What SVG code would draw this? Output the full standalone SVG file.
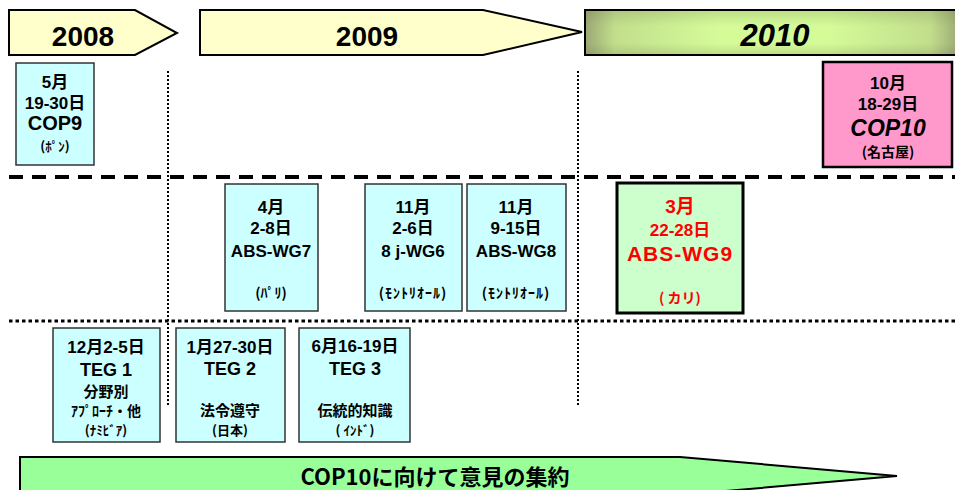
<svg xmlns="http://www.w3.org/2000/svg" width="955" height="490" viewBox="0 0 955 490">
<style>
text{font-family:'Liberation Sans','Noto Sans CJK JP',sans-serif;font-weight:bold;text-anchor:middle;fill:#000}
.jp{font-family:'Noto Sans CJK JP','Liberation Sans',sans-serif}
.yr{font-size:28px}
.box{fill:#ccffff;stroke:#333;stroke-width:1.5}
.md{font-size:17px}
.big{font-size:20px}
.sm{font-size:14px}
.red{fill:#ff0000}
.it{font-style:italic}
</style>
<defs>
<linearGradient id="g2010" x1="0" y1="0" x2="1" y2="0">
<stop offset="0" stop-color="#9aa874"/>
<stop offset="0.08" stop-color="#c2de8c"/>
<stop offset="0.35" stop-color="#d4fb98"/>
<stop offset="0.65" stop-color="#d4fb98"/>
<stop offset="0.92" stop-color="#c2de8c"/>
<stop offset="1" stop-color="#9aa874"/>
</linearGradient>
<linearGradient id="g2010v" x1="0" y1="0" x2="0" y2="1">
<stop offset="0" stop-color="#5a6040" stop-opacity="0.18"/>
<stop offset="0.35" stop-color="#5a6040" stop-opacity="0"/>
<stop offset="0.75" stop-color="#5a6040" stop-opacity="0"/>
<stop offset="1" stop-color="#5a6040" stop-opacity="0.18"/>
</linearGradient>
</defs>

<g id="connectors" fill="none" stroke="#000">
<line x1="168" y1="71" x2="168" y2="407" stroke-width="2" stroke-dasharray="2 2"/>
<line x1="578" y1="71" x2="578" y2="407" stroke-width="2" stroke-dasharray="2 2"/>
<line x1="9" y1="177" x2="955" y2="177" stroke-width="4" stroke-dasharray="14 9"/>
<line x1="9" y1="321" x2="955" y2="321" stroke-width="3" stroke-dasharray="3.5 3"/>
</g>

<g id="y2008">
<polygon points="9,10 135,10 177,33 135,55 9,55" fill="#ffffcc" stroke="#000" stroke-width="2"/>
<text class="yr" x="83" y="46">2008</text>
</g>
<g id="y2009">
<polygon points="200,10 483,10 582,32 483,55 200,55" fill="#ffffcc" stroke="#000" stroke-width="2"/>
<text class="yr" x="367" y="46">2009</text>
</g>
<g id="y2010">
<rect x="585" y="10" width="375" height="45" fill="url(#g2010)" stroke="#000" stroke-width="2"/>
<rect x="586" y="11" width="370" height="43" fill="url(#g2010v)"/>
<text class="it" x="775" y="46" font-size="31">2010</text>
</g>

<g id="cop9">
<rect class="box" x="16" y="63" width="78" height="102"/>
<text class="md" x="55" y="88">5月</text>
<text class="md" x="55" y="109">19-30日</text>
<text class="big" x="55" y="130">COP9</text>
<text class="jp" x="55" y="151" font-size="13">(ﾎﾟﾝ)</text>
</g>

<g id="cop10">
<rect x="823" y="62" width="129" height="105" fill="#ff99cc" stroke="#000" stroke-width="2.5"/>
<text class="md" x="888" y="89">10月</text>
<text class="md" x="888" y="110">18-29日</text>
<text class="it" x="888" y="136" font-size="23">COP10</text>
<text class="jp" x="888" y="157" font-size="14">(名古屋)</text>
</g>

<g id="wg7">
<rect class="box" x="225" y="184" width="93" height="127"/>
<text class="md" x="271" y="213">4月</text>
<text class="md" x="271" y="234">2-8日</text>
<text class="md" x="271" y="257">ABS-WG7</text>
<text class="sm jp" x="271" y="298">(ﾊﾟﾘ)</text>
</g>

<g id="wg6">
<rect class="box" x="365" y="184" width="97" height="127"/>
<text class="md" x="413" y="213">11月</text>
<text class="md" x="413" y="234">2-6日</text>
<text class="md" x="413" y="257">8 j-WG6</text>
<text class="sm jp" x="413" y="298" letter-spacing="1">(ﾓﾝﾄﾘｵｰﾙ)</text>
</g>

<g id="wg8">
<rect class="box" x="467" y="184" width="99" height="127"/>
<text class="md" x="516" y="213">11月</text>
<text class="md" x="516" y="234">9-15日</text>
<text class="md" x="516" y="257">ABS-WG8</text>
<text class="sm jp" x="516" y="298" letter-spacing="1">(ﾓﾝﾄﾘｵｰﾙ)</text>
</g>

<g id="wg9">
<rect x="617" y="183" width="126" height="130" fill="#ccffcc" stroke="#000" stroke-width="3"/>
<text class="red" x="680" y="213" font-size="19">3月</text>
<text class="red" x="680" y="236" font-size="17">22-28日</text>
<text class="red" x="680" y="261" font-size="21" letter-spacing="1">ABS-WG9</text>
<text class="red jp" x="680" y="303" font-size="14">( カリ)</text>
</g>

<g id="teg1">
<rect class="box" x="53" y="328" width="107" height="114"/>
<text class="md" x="106" y="353">12月2-5日</text>
<text x="106" y="376" font-size="18">TEG 1</text>
<text class="jp" x="106" y="397" font-size="15">分野別</text>
<text class="jp" x="106" y="416" font-size="14">ｱﾌﾟﾛｰﾁ・他</text>
<text class="jp" x="106" y="435" font-size="13">(ﾅﾐﾋﾞｱ)</text>
</g>

<g id="teg2">
<rect class="box" x="176" y="328" width="109" height="114"/>
<text class="md" x="230" y="353">1月27-30日</text>
<text x="230" y="375" font-size="18">TEG 2</text>
<text class="jp" x="230" y="416" font-size="15">法令遵守</text>
<text class="jp" x="230" y="435" font-size="13">(日本)</text>
</g>

<g id="teg3">
<rect class="box" x="299" y="328" width="111" height="114"/>
<text class="md" x="355" y="352">6月16-19日</text>
<text x="355" y="375" font-size="18">TEG 3</text>
<text class="jp" x="355" y="416" font-size="15">伝統的知識</text>
<text class="jp" x="355" y="435" font-size="13">( ｲﾝﾄﾞ)</text>
</g>

<g id="summary">
<polygon points="20,457 680,457 897,476 680,495 20,495" fill="#99ff99" stroke="#000" stroke-width="2"/>
<text class="jp" x="435" y="485" font-size="22">COP10に向けて意見の集約</text>
</g>
</svg>
